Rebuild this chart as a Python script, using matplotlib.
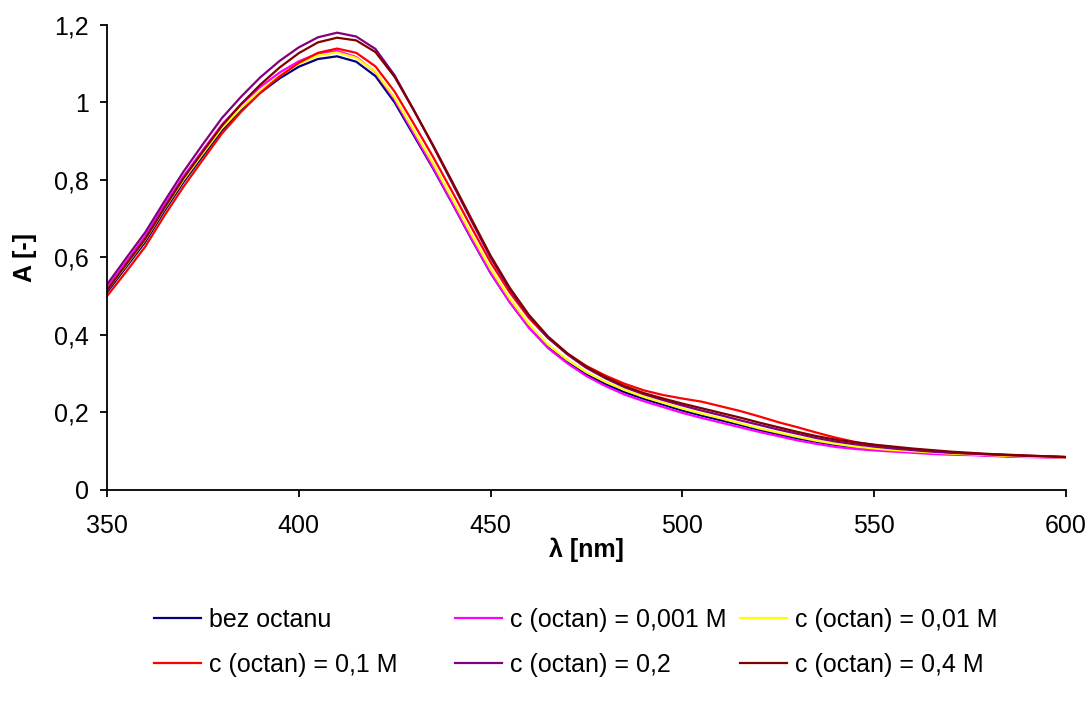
import numpy as np
import matplotlib
matplotlib.use('Agg')
from matplotlib import pyplot as plt

plt.rcParams['font.family'] = ['Liberation Sans', 'DejaVu Sans']

# wavelength grid (nm)
wl = np.arange(350, 601, 5)

bez = [0.510, 0.575, 0.640, 0.720, 0.795, 0.862, 0.928, 0.980, 1.025, 1.062,
       1.092, 1.112, 1.119, 1.105, 1.068, 1.000, 0.915, 0.830, 0.740, 0.648,
       0.560, 0.485, 0.420, 0.368, 0.330, 0.298, 0.273, 0.252, 0.235, 0.220,
       0.205, 0.192, 0.180, 0.168, 0.155, 0.144, 0.133, 0.124, 0.116, 0.110,
       0.106, 0.102, 0.099, 0.096, 0.094, 0.092, 0.089, 0.087, 0.086, 0.085, 0.084]
c0001 = [0.522, 0.588, 0.655, 0.735, 0.810, 0.877, 0.943, 0.995, 1.040, 1.077,
         1.106, 1.126, 1.133, 1.117, 1.078, 1.007, 0.920, 0.833, 0.742, 0.650,
         0.561, 0.485, 0.419, 0.366, 0.327, 0.294, 0.268, 0.246, 0.229, 0.214,
         0.199, 0.186, 0.174, 0.162, 0.150, 0.139, 0.128, 0.119, 0.111, 0.106,
         0.102, 0.099, 0.096, 0.093, 0.091, 0.090, 0.088, 0.086, 0.085, 0.084, 0.083]
c001 = [0.515, 0.580, 0.646, 0.726, 0.801, 0.868, 0.934, 0.986, 1.031, 1.069,
        1.100, 1.121, 1.129, 1.115, 1.079, 1.012, 0.928, 0.843, 0.752, 0.660,
        0.571, 0.494, 0.428, 0.375, 0.336, 0.304, 0.279, 0.258, 0.240, 0.225,
        0.210, 0.197, 0.185, 0.172, 0.159, 0.148, 0.137, 0.127, 0.119, 0.112,
        0.107, 0.103, 0.100, 0.097, 0.094, 0.092, 0.090, 0.088, 0.086, 0.085, 0.084]
c01 = [0.500, 0.563, 0.628, 0.708, 0.783, 0.852, 0.920, 0.976, 1.025, 1.067,
       1.102, 1.128, 1.139, 1.128, 1.093, 1.028, 0.945, 0.860, 0.770, 0.678,
       0.588, 0.510, 0.444, 0.392, 0.352, 0.320, 0.295, 0.274, 0.257, 0.245,
       0.236, 0.228, 0.216, 0.204, 0.190, 0.175, 0.162, 0.148, 0.135, 0.124,
       0.116, 0.110, 0.105, 0.101, 0.097, 0.094, 0.092, 0.090, 0.088, 0.087, 0.085]
c02 = [0.530, 0.598, 0.665, 0.745, 0.822, 0.892, 0.960, 1.015, 1.065, 1.107,
       1.142, 1.168, 1.180, 1.170, 1.138, 1.070, 0.980, 0.888, 0.792, 0.695,
       0.600, 0.518, 0.449, 0.393, 0.350, 0.315, 0.288, 0.265, 0.247, 0.232,
       0.218, 0.205, 0.193, 0.180, 0.168, 0.156, 0.145, 0.134, 0.125, 0.118,
       0.112, 0.107, 0.103, 0.099, 0.096, 0.094, 0.092, 0.090, 0.088, 0.087, 0.085]
c04 = [0.515, 0.582, 0.648, 0.728, 0.805, 0.873, 0.940, 0.996, 1.046, 1.090,
       1.127, 1.155, 1.167, 1.160, 1.130, 1.066, 0.980, 0.890, 0.796, 0.700,
       0.605, 0.522, 0.452, 0.396, 0.353, 0.318, 0.291, 0.268, 0.250, 0.236,
       0.223, 0.211, 0.199, 0.187, 0.174, 0.162, 0.150, 0.139, 0.130, 0.123,
       0.117, 0.112, 0.107, 0.103, 0.099, 0.096, 0.093, 0.091, 0.089, 0.087, 0.085]

labels = ['bez octanu', 'c (octan) = 0,001 M', 'c (octan) = 0,01 M',
          'c (octan) = 0,1 M', 'c (octan) = 0,2', 'c (octan) = 0,4 M']
colors = ['#000080', '#FF00FF', '#FFFF00', '#FF0000', '#800080', '#800000']
series = [bez, c0001, c001, c01, c02, c04]

xticks = [350, 400, 450, 500, 550, 600]
yticks = [0, 0.2, 0.4, 0.6, 0.8, 1.0, 1.2]
ytick_labels = ['0', '0,2', '0,4', '0,6', '0,8', '1', '1,2']

fig = plt.figure(figsize=(10.91, 7.02), dpi=100)
ax = fig.add_axes([0.098, 0.302, 0.879, 0.6625])

lines = []
for y, c, lab in zip(series, colors, labels):
    l, = ax.plot(wl, y, color=c, lw=1.6, label=lab)
    lines.append(l)

ax.set_xlim(350, 600)
ax.set_ylim(0, 1.2)
ax.set_xticks(xticks)
ax.set_yticks(yticks)
ax.set_yticklabels(ytick_labels)
for s in ['top', 'right']:
    ax.spines[s].set_visible(False)
for s in ['left', 'bottom']:
    ax.spines[s].set_linewidth(1.3)
ax.tick_params(direction='out', length=5, width=1.3, labelsize=18)
ax.tick_params(axis='x', pad=12)
ax.tick_params(axis='y', pad=8)

ax.set_xlabel('λ [nm]', fontsize=18, fontweight='bold', labelpad=0)
ax.set_ylabel('A [-]', fontsize=18, fontweight='bold', labelpad=12)

# legend: three columns, two rows (row order as in the original)
col_x = [0.141, 0.417, 0.678]
for i, x in enumerate(col_x):
    fig.legend([lines[i], lines[i + 3]], [labels[i], labels[i + 3]],
               loc='upper left', bbox_to_anchor=(x, 0.134), frameon=False,
               fontsize=18, handlelength=1.9, handletextpad=0.3,
               labelspacing=0.85, borderpad=0, borderaxespad=0)

fig.savefig('out.png', dpi=100)
